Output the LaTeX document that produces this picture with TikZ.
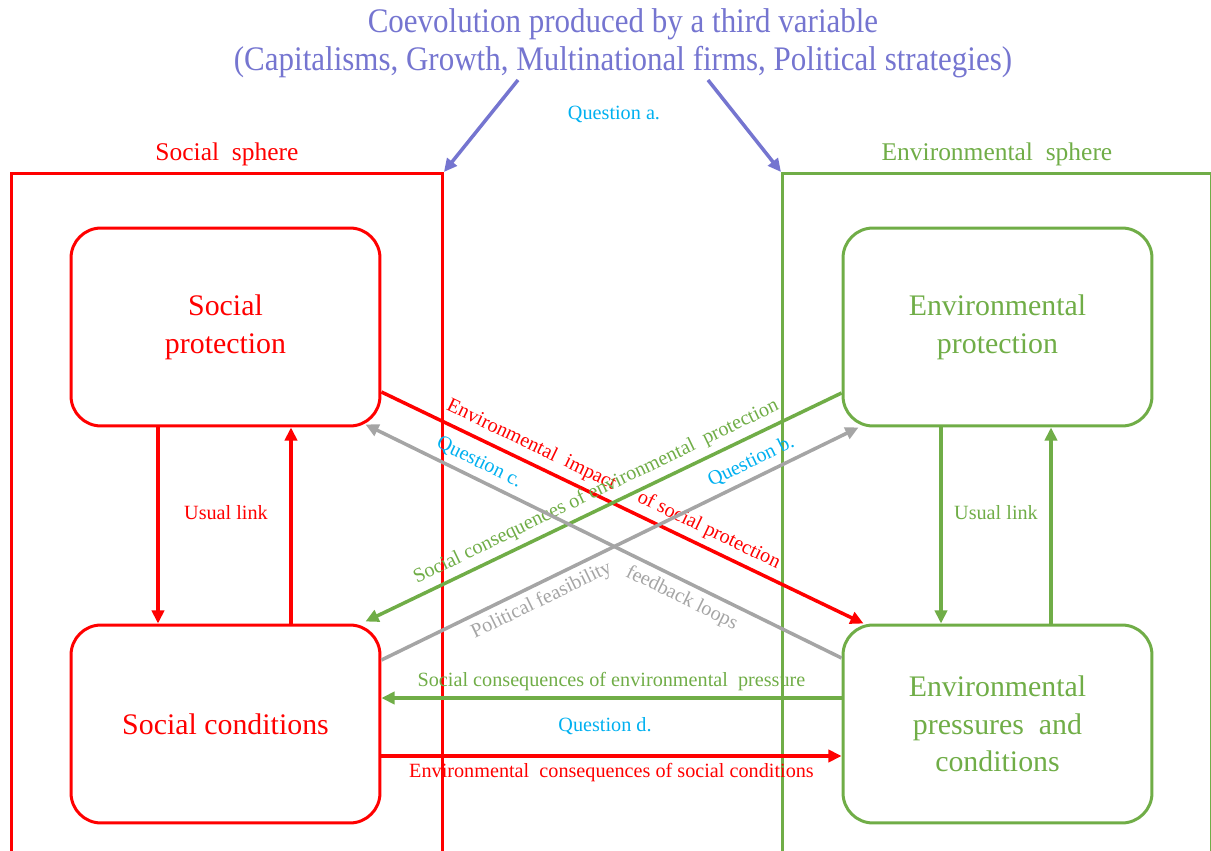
\documentclass[tikz,border=0pt]{standalone}
\usepackage{fontspec}
\setmainfont{Liberation Serif}
\newfontfamily\thirdfont[FakeStretch=0.9]{Liberation Serif}
\usepackage{tikz}
\usetikzlibrary{positioning}
\usetikzlibrary{calc}
\usetikzlibrary{arrows.meta}
\definecolor{socred}{RGB}{255,0,0}
\definecolor{envgreen}{RGB}{112,173,71}
\definecolor{loopgray}{RGB}{165,165,165}
\definecolor{qblue}{RGB}{0,176,240}
\definecolor{thirdvar}{RGB}{117,117,208}
\tikzset{>={Triangle[length=7.5pt,width=7pt]}}
\tikzstyle{sphere} = [draw, rectangle, line width=1.7pt, anchor=north west,
minimum height=14cm, inner sep=0pt]
\tikzstyle{block} = [draw, rectangle, line width=1.7pt, rounded corners=0.6cm,
minimum width=6.18cm, minimum height=3.96cm, align=center,
font=\fontsize{17}{21.5}\selectfont]
\tikzstyle{lbl} = [font=\fontsize{11.5}{13}\selectfont]
\tikzstyle{line} = [draw, line width=2pt, ->]

\begin{document}
\begin{tikzpicture}[x=0.02cm, y=-0.02cm]
      \useasboundingbox (0,0) rectangle (1211,851);
      %% Spheres
      \node [sphere, draw=socred, minimum width=8.62cm] (socsph) at (10,172) {};
      \node [sphere, draw=envgreen, minimum width=8.58cm] (envsph) at (781,172) {};
      \node [above=0pt of socsph.north, text=socred, font=\fontsize{14.5}{16}\selectfont] (socsphlbl) {Social\ \ sphere};
      \node [above=0pt of envsph.north, text=envgreen, font=\fontsize{14.5}{16}\selectfont] (envsphlbl) {Environmental\ \ sphere};
      %% Blocks
      \node [block, draw=socred, text=socred] (socprot) at (225.5,327) {Social\\protection};
      \node [block, draw=envgreen, text=envgreen] (envprot) at (997.5,327) {Environmental\\protection};
      \node [block, draw=socred, text=socred] (soccond) at (225.5,724) {Social conditions};
      \node [block, draw=envgreen, text=envgreen] (envpres) at (997.5,724) {Environmental\\pressures\ \ and\\conditions};
      %% Third variable
      \node [text=thirdvar, align=center, font=\thirdfont\fontsize{19.6}{21.5}\selectfont] (third) at (623,43)
      {Coevolution produced by a third variable\\(Capitalisms, Growth, Multinational firms, Political strategies)};
      \coordinate (thirdL) at (518,80);
      \coordinate (thirdR) at (708,80);
      \path [line, draw=thirdvar, fill=thirdvar] (thirdL) to (socsph.north east);
      \path [line, draw=thirdvar, fill=thirdvar] (thirdR) to (envsph.north west);
      \node [lbl, text=qblue] (qa) at (614,114) {Question a.};
      %% Usual links
      \path [line, draw=socred, fill=socred] ($(socprot.south)+(-67.5,0)$) to ($(soccond.north)+(-67.5,0)$);
      \path [line, draw=socred, fill=socred] ($(soccond.north)+(65.5,0)$) to ($(socprot.south)+(65.5,0)$);
      \node [lbl, text=socred] (usocl) at (226,513) {Usual link};
      \path [line, draw=envgreen, fill=envgreen] ($(envprot.south)+(-56.5,0)$) to ($(envpres.north)+(-56.5,0)$);
      \path [line, draw=envgreen, fill=envgreen] ($(envpres.north)+(53.5,0)$) to ($(envprot.south)+(53.5,0)$);
      \node [lbl, text=envgreen] (uenvl) at (996,513) {Usual link};
      %% Cross flows
      \path [line, draw=socred, fill=socred] ($(socprot.east)+(0,65)$) to
      node [lbl, pos=0.466, sloped, above, text=socred, fill=none] (impact) {Environmental\ \ impact\hspace{1.3em}of social protection}
      ($(envpres.north west)+(22,0)$);
      \path [line, draw=envgreen, fill=envgreen] ($(envprot.west)+(0,66)$) to
      node [lbl, pos=0.5, sloped, above, text=envgreen, fill=none] (conseqprot) {Social consequences of environmental\ \ protection}
      ($(soccond.north east)+(-16,-2)$);
      \path [line, draw=loopgray, fill=loopgray] ($(envpres.west)+(0,-66)$) to
      node [lbl, pos=0.776, sloped, above, text=qblue, fill=none] (qc) {Question c.}
      node [lbl, pos=0.32, sloped, below, text=loopgray, fill=none] (fbloops) {feedback loops}
      ($(socprot.south east)+(-16,-3)$);
      \path [line, draw=loopgray, fill=loopgray] ($(soccond.east)+(0,-64)$) to
      node [lbl, pos=0.79, sloped, above, text=qblue, fill=none] (qb) {Question b.}
      node [lbl, pos=0.32, sloped, below, text=loopgray, fill=none] (polfeas) {Political feasibility}
      ($(envprot.south west)+(17,0)$);
      %% Horizontal flows
      \path [line, draw=envgreen, fill=envgreen] ($(envpres.west)+(0,-26)$) to
      node [lbl, above, text=envgreen, fill=none] (conseqpres) {Social consequences of environmental\ \ pressure}
      ($(soccond.east)+(0,-26)$);
      \node [lbl, text=qblue] (qd) at (605,726) {Question d.};
      \path [line, draw=socred, fill=socred] ($(soccond.east)+(0,32)$) to
      node [lbl, below, text=socred, fill=none] (conseqcond) {Environmental\ \ consequences of social conditions}
      ($(envpres.west)+(0,32)$);
\end{tikzpicture}
\end{document}
